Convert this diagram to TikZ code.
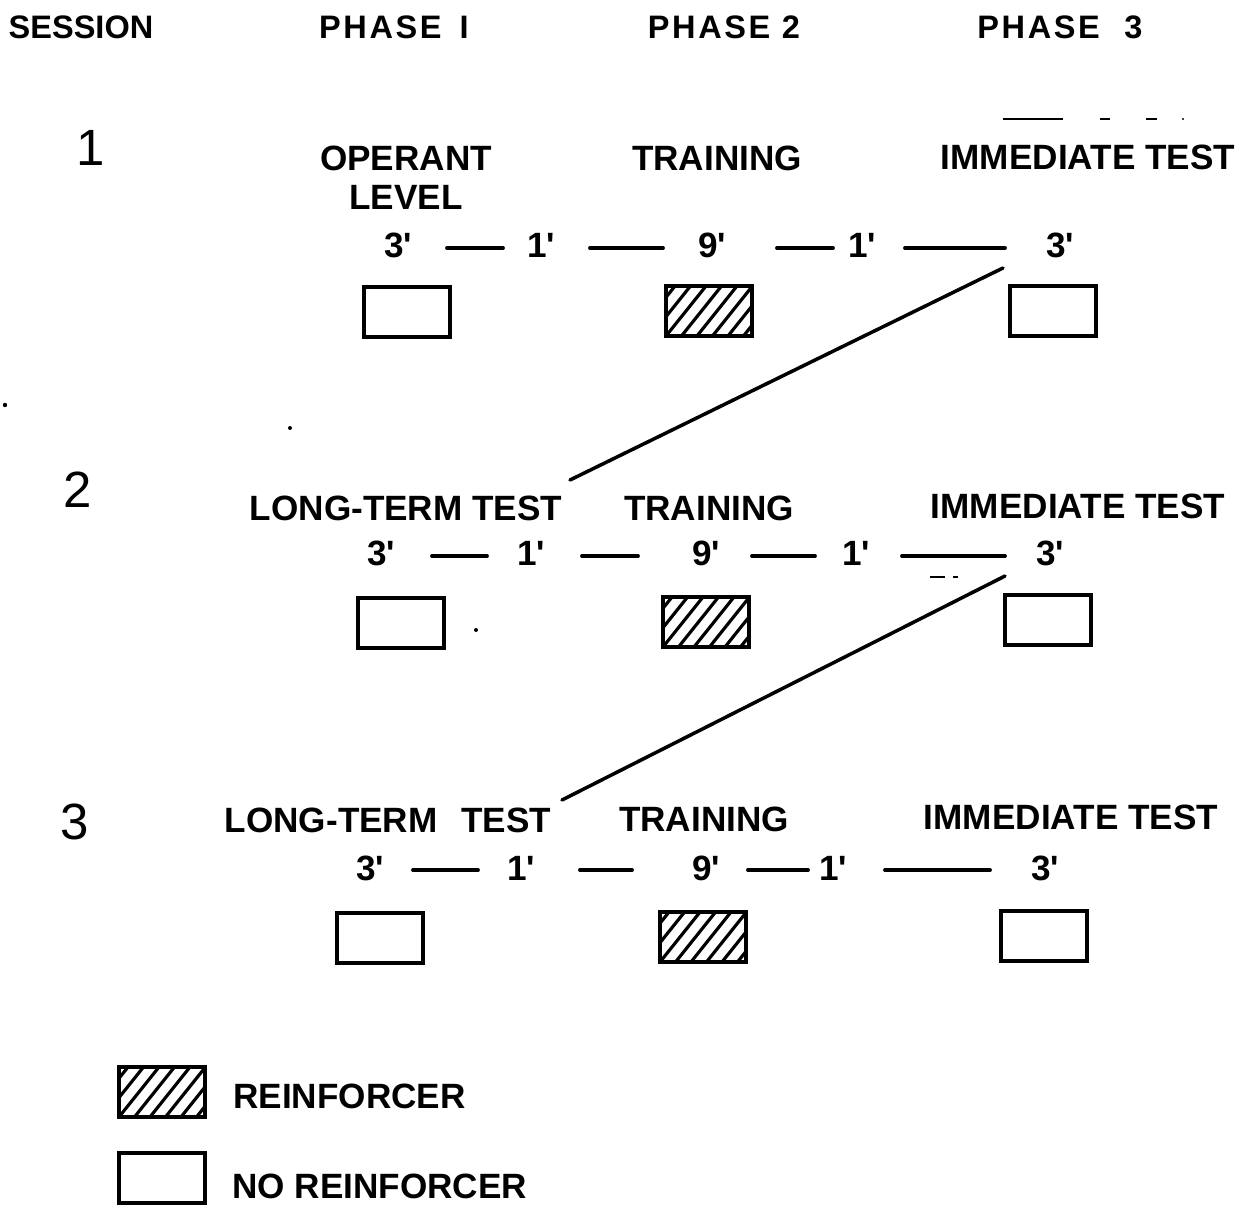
\documentclass[tikz,border=0pt]{standalone}
\usepackage{fontspec}
\setmainfont{Liberation Sans}
\begin{document}
\begin{tikzpicture}[x=0.02cm,y=-0.02cm,
  lbl/.style={font=\fontsize{20}{22}\selectfont\bfseries, inner sep=0pt, anchor=center},
  hdr/.style={font=\fontsize{18.5}{20}\selectfont\bfseries, inner sep=0pt, anchor=center},
  phdr/.style={hdr, font=\fontsize{18.5}{20}\selectfont\bfseries\addfontfeature{LetterSpace=8}},
  sess/.style={font=\fontsize{29}{31}\selectfont, inner sep=0pt, anchor=center},
  num/.style={font=\fontsize{20}{22}\selectfont\bfseries, inner sep=0pt, anchor=center},
  wbox/.style={draw, line width=2.2pt, minimum width=1.72cm, minimum height=1.0cm, inner sep=0pt, fill=white},
  hbox/.style={wbox, path picture={
      \foreach \k in {-4,...,7}{
        \draw[line width=1.8pt] ([xshift=\k*0.31cm]path picture bounding box.south west) -- ++(1.1cm,1.375cm);
      }}},
  dashseg/.style={line width=2.2pt, line cap=round},
  link/.style={line width=2pt, line cap=round},
  speck/.style={line width=1.1pt},
]
\useasboundingbox (0,0) rectangle (1239,1206);

% headers
\node[hdr] (hS) at (81,27) {SESSION};
\node[phdr] (hP1) at (394,27) {PHASE\hspace{0.2em} I};
\node[phdr] (hP2) at (724,27) {PHASE 2};
\node[phdr] (hP3) at (1060,27) {PHASE\hspace{0.4em} 3};

% session numbers
\node[sess] (s1) at (91,148) {1};
\node[sess] (s2) at (78,490) {2};
\node[sess] (s3) at (75,822) {3};

% ---------- session 1 ----------
\node[lbl] (s1op) at (406,158) {OPERANT};
\node[lbl] (s1lv) at (406,197) {LEVEL};
\node[lbl] (s1tr) at (717,158) {TRAINING};
\node[lbl] (s1im) at (1088,157) {IMMEDIATE TEST};

\node[num] (n11) at (398,245) {3\textquotesingle};
\node[num] (n12) at (541,245) {1\textquotesingle};
\node[num] (n13) at (712,245) {9\textquotesingle};
\node[num] (n14) at (862,245) {1\textquotesingle};
\node[num] (n15) at (1060,245) {3\textquotesingle};
\foreach \a/\b [count=\i] in {447/503,590/663,777/833,905/1005}{
  \coordinate (d1a\i) at (\a,248);
  \coordinate (d1b\i) at (\b,248);
  \draw[dashseg] (d1a\i) -- (d1b\i);
}
\node[wbox] (b11) at (407,312) {};
\node[hbox] (b12) at (709,311) {};
\node[wbox] (b13) at (1053,311) {};

% ---------- session 2 ----------
\node[lbl] (s2lt) at (406,508) {LONG-TERM TEST};
\node[lbl] (s2tr) at (709,508) {TRAINING};
\node[lbl] (s2im) at (1078,506) {IMMEDIATE TEST};

\node[num] (n21) at (381,553) {3\textquotesingle};
\node[num] (n22) at (531,553) {1\textquotesingle};
\node[num] (n23) at (706,553) {9\textquotesingle};
\node[num] (n24) at (856,553) {1\textquotesingle};
\node[num] (n25) at (1050,553) {3\textquotesingle};
\foreach \a/\b [count=\i] in {432/487,582/638,752/815,902/1005}{
  \coordinate (d2a\i) at (\a,556);
  \coordinate (d2b\i) at (\b,556);
  \draw[dashseg] (d2a\i) -- (d2b\i);
}
\node[wbox] (b21) at (401,623) {};
\node[hbox] (b22) at (706,622) {};
\node[wbox] (b23) at (1048,620) {};

% ---------- session 3 ----------
\node[lbl] (s3lt) at (388,820) {LONG-TERM\hspace{0.4em} TEST};
\node[lbl] (s3tr) at (704,819) {TRAINING};
\node[lbl] (s3im) at (1071,817) {IMMEDIATE TEST};

\node[num] (n31) at (370,868) {3\textquotesingle};
\node[num] (n32) at (521,868) {1\textquotesingle};
\node[num] (n33) at (706,868) {9\textquotesingle};
\node[num] (n34) at (833,868) {1\textquotesingle};
\node[num] (n35) at (1045,868) {3\textquotesingle};
\foreach \a/\b [count=\i] in {413/478,580/632,748/808,885/990}{
  \coordinate (d3a\i) at (\a,870);
  \coordinate (d3b\i) at (\b,870);
  \draw[dashseg] (d3a\i) -- (d3b\i);
}
\node[wbox] (b31) at (380,938) {};
\node[hbox] (b32) at (703,937) {};
\node[wbox] (b33) at (1044,936) {};

% ---------- links between sessions ----------
\coordinate (l1a) at (1003,268);
\coordinate (l1b) at (570,480);
\draw[link] (l1a) -- (l1b);
\coordinate (l2a) at (1005,576);
\coordinate (l2b) at (562,800);
\draw[link] (l2a) -- (l2b);

% ---------- legend ----------
\node[hbox] (lg1) at (162,1092) {};
\node[lbl, anchor=west] (lg1t) at (233,1096) {REINFORCER};
\node[wbox] (lg2) at (162,1178) {};
\node[lbl, anchor=west] (lg2t) at (232,1186) {NO REINFORCER};

% ---------- stray marks of the original ----------
\draw[speck] (1003,119) -- (1063,119);
\draw[speck] (1100,119) -- (1110,119);
\draw[speck] (1146,119) -- (1157,119);
\fill (1183,119) circle (1.2);
\draw[speck] (930,577) -- (945,577);
\draw[speck] (953,577) -- (958,577);
\fill (5,405) circle (2.2);
\fill (290,428) circle (2);
\fill (476,630) circle (2);
\end{tikzpicture}
\end{document}
